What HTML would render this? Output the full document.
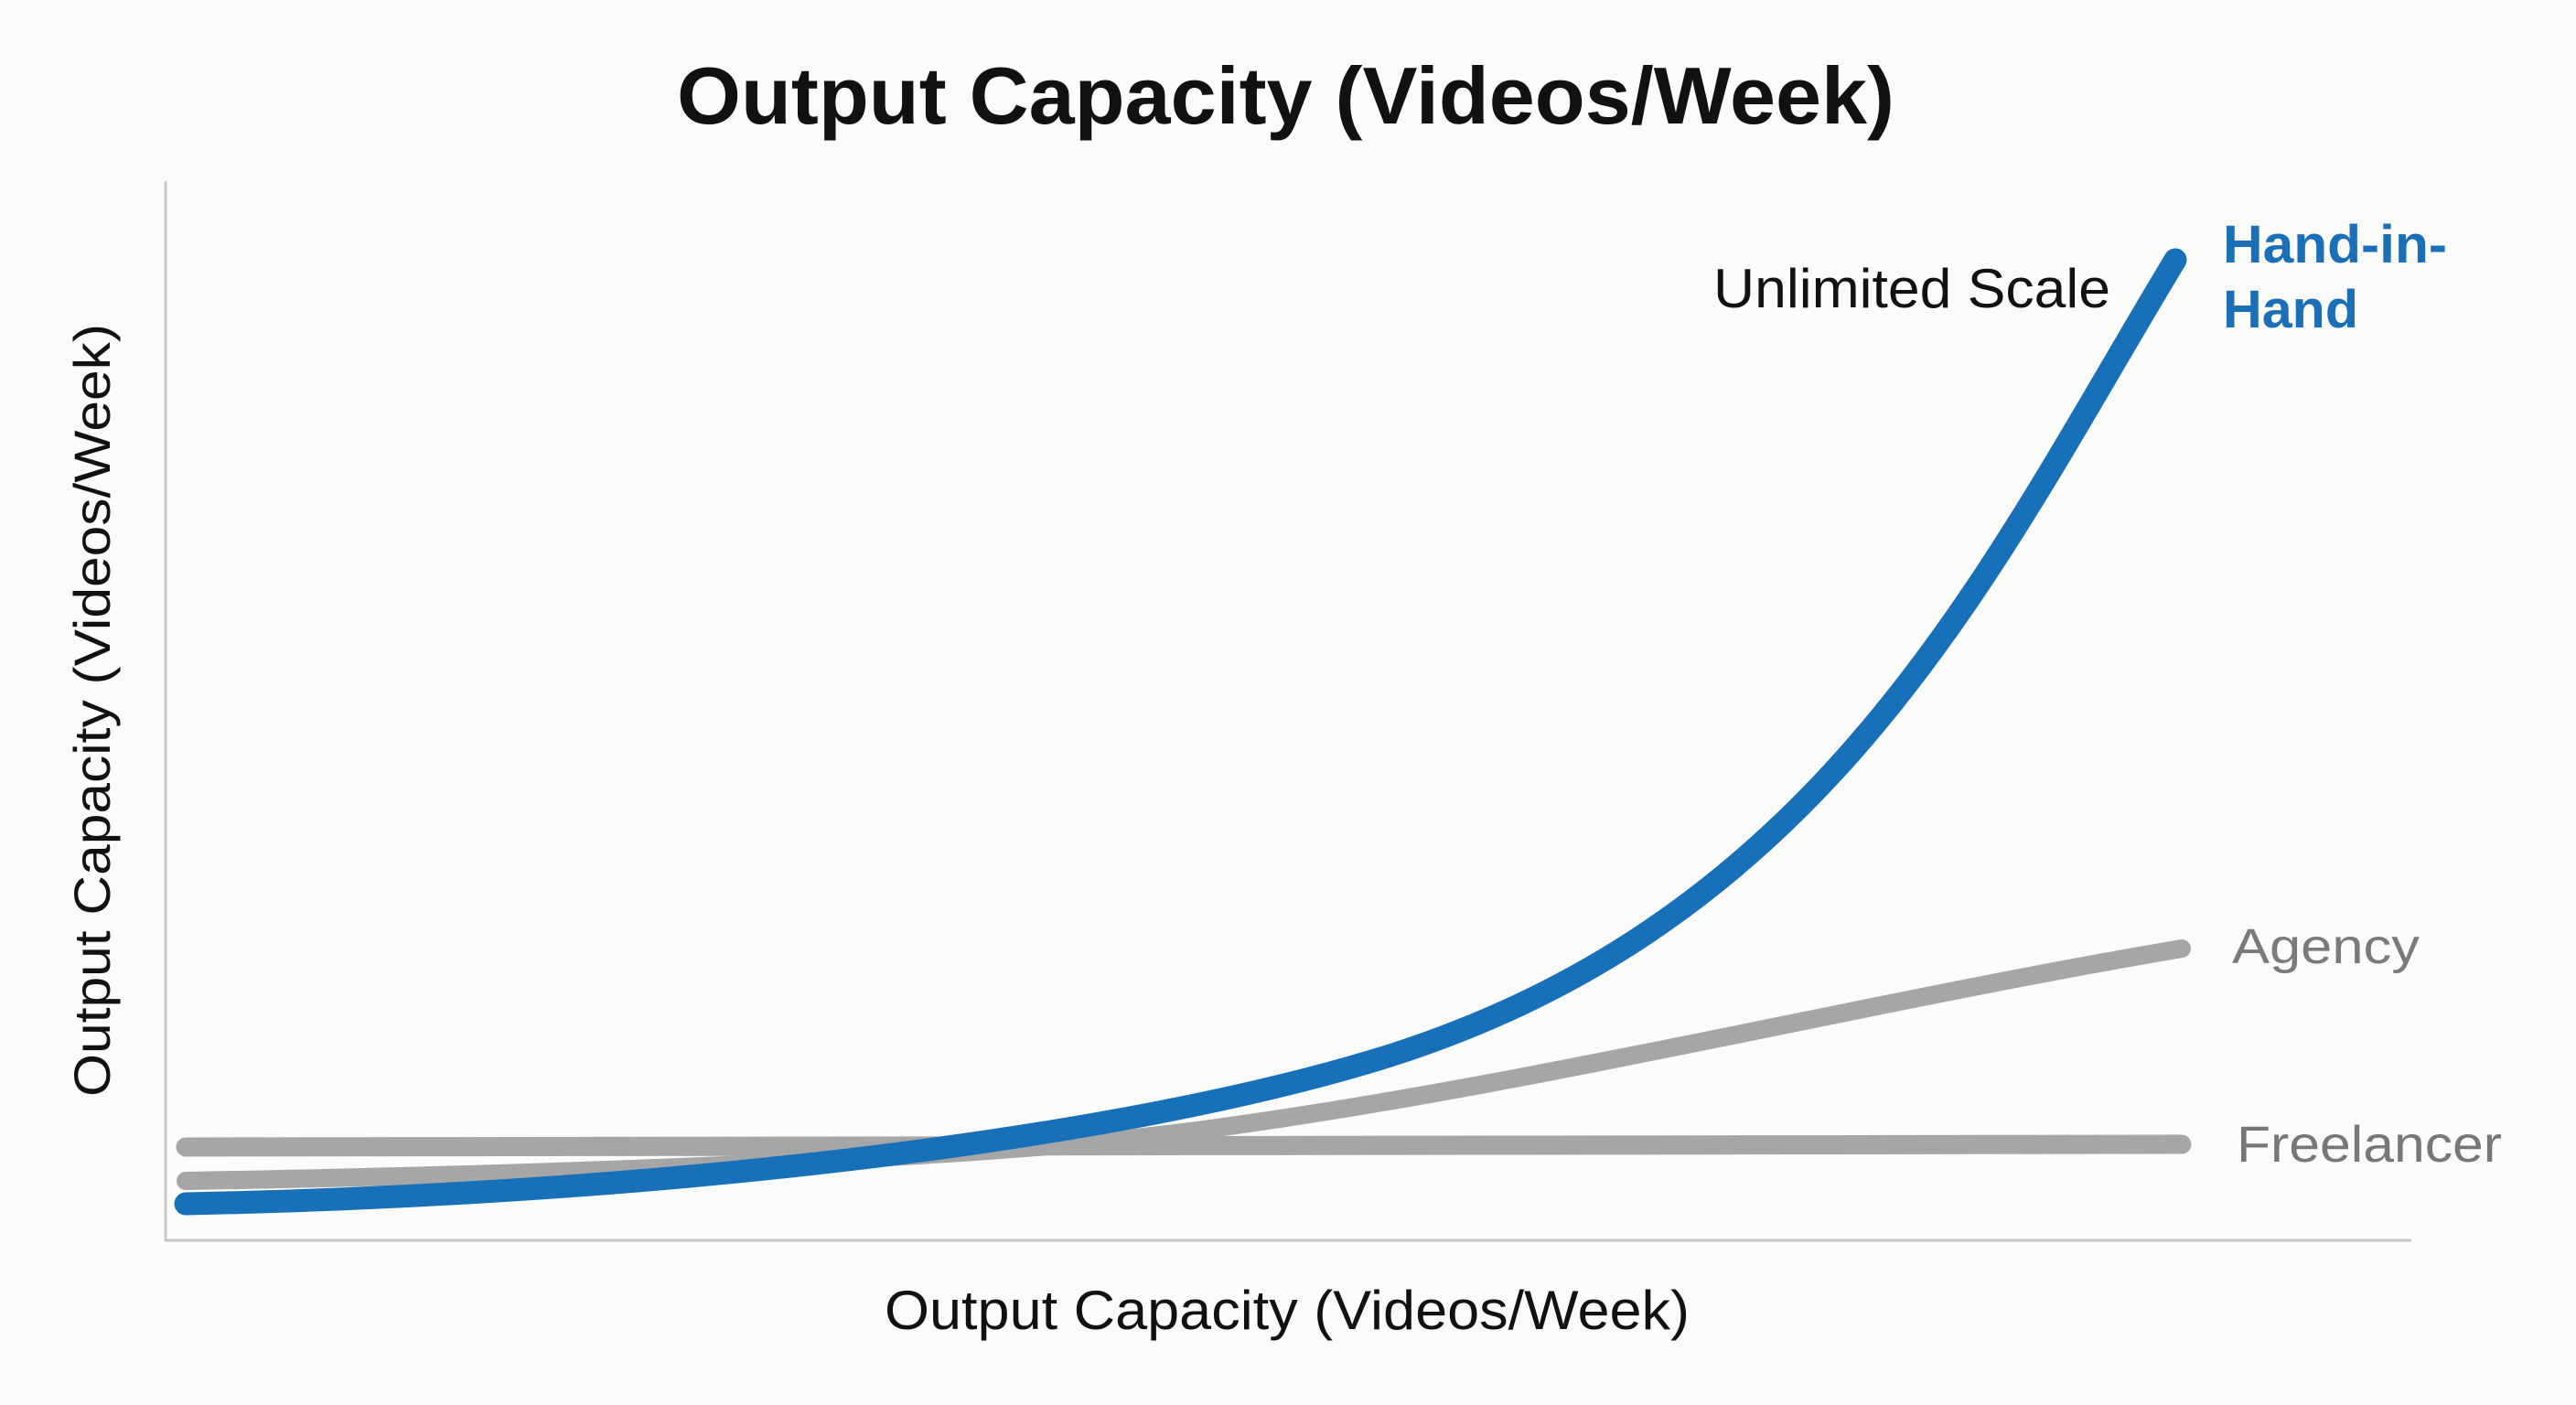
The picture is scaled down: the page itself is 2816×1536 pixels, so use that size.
<!DOCTYPE html>
<html>
<head>
<meta charset="utf-8">
<style>
  html, body { margin: 0; padding: 0; background: #fbfbfa; }
  svg { display: block; }
</style>
</head>
<body>
<svg width="2816" height="1536" viewBox="0 0 2816 1536" xmlns="http://www.w3.org/2000/svg">
  <rect x="0" y="0" width="2816" height="1536" fill="#fbfbfa"/>

  <!-- Title -->
  <text x="740" y="135" font-family="Liberation Sans, sans-serif" font-weight="bold" font-size="88" fill="#111" textLength="1331" lengthAdjust="spacingAndGlyphs">Output Capacity (Videos/Week)</text>

  <!-- Axes -->
  <line x1="181" y1="198" x2="181" y2="1357" stroke="#cacaca" stroke-width="3"/>
  <line x1="180" y1="1356" x2="2636" y2="1356" stroke="#cacaca" stroke-width="3"/>

  <!-- Y axis label -->
  <g transform="translate(120,1199) rotate(-90)">
    <text x="0" y="0" font-family="Liberation Sans, sans-serif" font-size="56" fill="#111" textLength="845" lengthAdjust="spacingAndGlyphs">Output Capacity (Videos/Week)</text>
  </g>

  <!-- X axis label -->
  <text x="967" y="1453" font-family="Liberation Sans, sans-serif" font-size="60" fill="#111" textLength="880" lengthAdjust="spacingAndGlyphs">Output Capacity (Videos/Week)</text>

  <!-- Agency -->
  <path fill="none" stroke="#a6a6a6" stroke-width="20" stroke-linecap="round" stroke-linejoin="round"
    d="M203,1291 C550,1285 1050,1270 1300,1237 C1660,1190.2 2025,1098.2 2385,1037"/>

  <!-- Freelancer -->
  <line x1="203" y1="1254" x2="2385" y2="1251" stroke="#a6a6a6" stroke-width="21" stroke-linecap="round"/>

  <!-- Hand-in-Hand -->
  <path fill="none" stroke="#1870b9" stroke-width="25" stroke-linecap="round" stroke-linejoin="round"
    d="M203,1316 C703,1306 1200,1250 1500,1160 C2000,1010 2178,614 2378,284"/>

  <!-- Labels -->
  <text x="1873" y="336" font-family="Liberation Sans, sans-serif" font-size="60" fill="#111" textLength="434" lengthAdjust="spacingAndGlyphs">Unlimited Scale</text>
  <text x="2430" y="287" font-family="Liberation Sans, sans-serif" font-weight="bold" font-size="58" fill="#1a6fb7" textLength="245" lengthAdjust="spacingAndGlyphs">Hand-in-</text>
  <text x="2430" y="358" font-family="Liberation Sans, sans-serif" font-weight="bold" font-size="58" fill="#1a6fb7" textLength="148" lengthAdjust="spacingAndGlyphs">Hand</text>
  <text x="2440" y="1053" font-family="Liberation Sans, sans-serif" font-size="54" fill="#7a7a7a" textLength="205" lengthAdjust="spacingAndGlyphs">Agency</text>
  <text x="2445" y="1270" font-family="Liberation Sans, sans-serif" font-size="56" fill="#777777" textLength="290" lengthAdjust="spacingAndGlyphs">Freelancer</text>
</svg>
</body>
</html>
